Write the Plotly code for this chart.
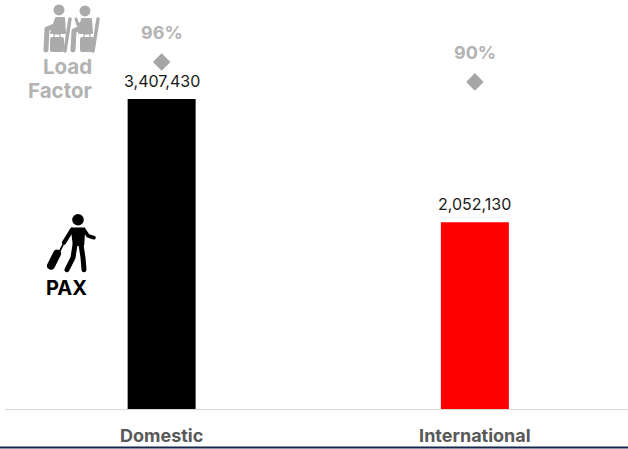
import base64
import plotly.graph_objects as go

# Passenger counts and load factors by market
categories = ["Domestic", "International"]
pax = [3407430, 2052130]
load_factor = [96, 90]
bar_colors = ["#000000", "#ff0000"]

W, H = 628, 449
M_L, M_B = 5, 39.5
FONT = "Inter"
GREY = "#b3b3b3"
SEAT_GREY = "#ababab"


def px_x(px):
    return (px - M_L) / (W - M_L)


def px_y(py):
    return (H - M_B - py) / (H - M_B)


def svg_uri(body, w, h):
    svg = (f'<svg xmlns="http://www.w3.org/2000/svg" width="{w}" height="{h}" '
           f'viewBox="0 0 {w} {h}">{body}</svg>')
    return "data:image/svg+xml;base64," + base64.b64encode(svg.encode()).decode()


# Two seated travellers with suitcases
seated_body = (
    f'<g stroke="{SEAT_GREY}" stroke-linecap="round" stroke-linejoin="round" fill="none">'
    f'<circle cx="17" cy="6" r="5.5" fill="{SEAT_GREY}" stroke="none"/>'
    f'<path d="M14 14 L22 14 L23 29 L9 29 Z" fill="{SEAT_GREY}" stroke-width="2"/>'
    f'<path d="M17 20 L5 25 L4 46" stroke-width="5"/>'
    f'<path d="M28 15 L23 47" stroke-width="3.5"/>'
    f'<rect x="8" y="33" width="14" height="15" rx="2" fill="{SEAT_GREY}" stroke="none"/>'
    f'<path d="M12 33 L12 30 L18 30 L18 33" stroke-width="1.2"/>'
    f'<circle cx="43" cy="7" r="5.5" fill="{SEAT_GREY}" stroke="none"/>'
    f'<path d="M40 15 L49 15 L50 29 L37 29 Z" fill="{SEAT_GREY}" stroke-width="2"/>'
    f'<path d="M41 18 L36 21 L34 15" stroke-width="3"/>'
    f'<path d="M42 22 L32 27 L31 46" stroke-width="5"/>'
    f'<path d="M56 15 L51 47" stroke-width="3.5"/>'
    f'<rect x="38" y="33" width="14" height="15" rx="2" fill="{SEAT_GREY}" stroke="none"/>'
    f'<path d="M42 33 L42 30 L48 30 L48 33" stroke-width="1.2"/>'
    f'</g>'
)
seated_icon = svg_uri(seated_body, 60, 50)

# Walking passenger pulling a suitcase
walker_body = (
    '<g stroke="#000" stroke-linecap="round" stroke-linejoin="round" fill="none">'
    '<circle cx="31" cy="6" r="5.8" fill="#000" stroke="none"/>'
    '<path d="M25 15 L37 15 L36 31 L27 31 Z" fill="#000" stroke-width="2.5"/>'
    '<path d="M37 16 L41 22 L47 24" stroke-width="3.6"/>'
    '<path d="M25 16 L17 29" stroke-width="4.2"/>'
    '<path d="M28 31 L26 44 L20 56" stroke-width="5"/>'
    '<path d="M34 31 L36 44 L37 56" stroke-width="5"/>'
    '<path d="M16 31 L11 41" stroke-width="1.8"/>'
    '<path d="M10 40 L4 52" stroke-width="8"/>'
    '</g>'
)
walker_icon = svg_uri(walker_body, 50, 60)

fig = go.Figure()

fig.add_bar(
    x=categories,
    y=pax,
    marker=dict(color=bar_colors, line_width=0),
    width=0.217,
    hoverinfo="skip",
    showlegend=False,
)

fig.add_scatter(
    x=categories,
    y=load_factor,
    yaxis="y2",
    mode="markers",
    marker=dict(symbol="diamond", size=13.5, color="#a6a6a6", line_width=0),
    hoverinfo="skip",
    showlegend=False,
)

annotations = [
    dict(x=c, y=v, xref="x", yref="y2", yshift=29, text=f"<b>{v}%</b>",
         showarrow=False, font=dict(family=FONT, size=18, color=GREY))
    for c, v in zip(categories, load_factor)
]
annotations += [
    dict(x=c, y=v, xref="x", yref="y", yshift=18, text=f"{v:,}",
         showarrow=False, font=dict(family=FONT, size=16, color="#1a1a1a"))
    for c, v in zip(categories, pax)
]
for text, py, anchor, px, size, color in [
    ("Load", 67, "right", 94, 20.5, GREY),
    ("Factor", 91, "right", 94, 20.5, GREY),
    ("PAX", 288, "center", 66, 20, "#000000"),
]:
    annotations.append(dict(
        x=px_x(px), y=px_y(py), xref="paper", yref="paper", xanchor=anchor,
        yanchor="middle", text=f"<b>{text}</b>", showarrow=False,
        font=dict(family=FONT, size=size, color=color),
    ))

images = [
    dict(source=seated_icon, xref="paper", yref="paper", x=px_x(42), y=px_y(4),
         sizex=60 / (W - M_L), sizey=50 / (H - M_B), xanchor="left", yanchor="top",
         sizing="stretch", layer="above"),
    dict(source=walker_icon, xref="paper", yref="paper", x=px_x(47), y=px_y(214),
         sizex=50 / (W - M_L), sizey=60 / (H - M_B), xanchor="left", yanchor="top",
         sizing="stretch", layer="above"),
]

fig.update_layout(
    width=W,
    height=H,
    autosize=False,
    margin=dict(l=M_L, r=0, t=0, b=M_B, pad=0),
    paper_bgcolor="#ffffff",
    plot_bgcolor="#ffffff",
    xaxis=dict(
        type="category",
        categoryorder="array",
        categoryarray=categories,
        range=[-0.5, 1.4888],
        showgrid=False,
        showline=True,
        linecolor="#d9d9d9",
        linewidth=1,
        ticks="",
        ticklabelstandoff=10,
        tickfont=dict(family=FONT, size=18, color="#595959", weight="bold"),
        zeroline=False,
    ),
    yaxis=dict(range=[0, 4493900], visible=False),
    yaxis2=dict(range=[-8.25, 114.6], overlaying="y", visible=False),
    annotations=annotations,
    images=images,
    shapes=[dict(type="line", xref="paper", yref="paper",
                 x0=px_x(0), x1=1, y0=px_y(448), y1=px_y(448),
                 line=dict(color="#14284b", width=2))],
)

fig.write_html("out.html", config=dict(displayModeBar=False))
